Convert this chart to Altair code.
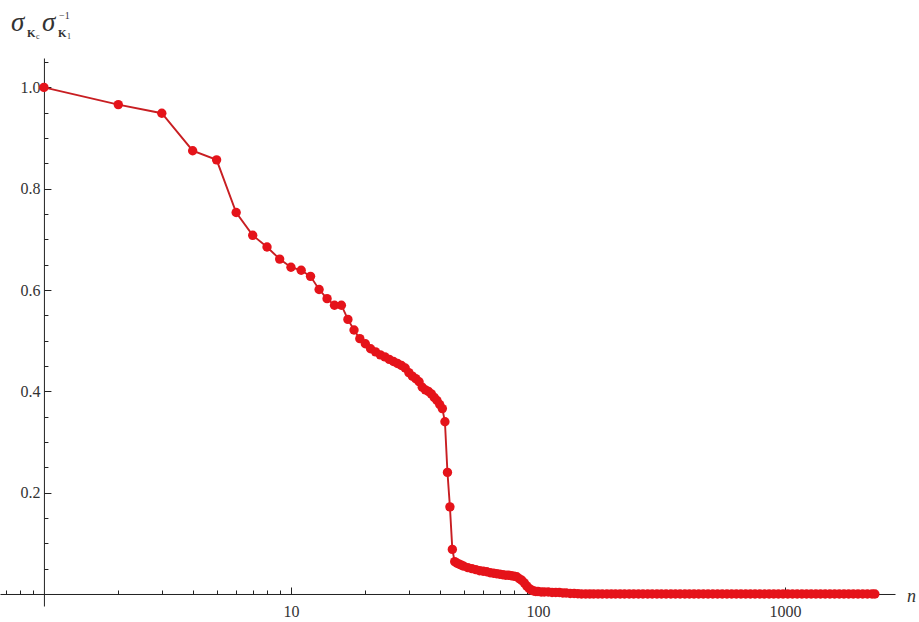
import altair as alt
import pandas as pd
import math

# ---- data ----
n_vals = list(range(1, 47)) + [
    47, 48, 49, 50, 52, 54, 56, 58, 60, 62, 64, 66, 68, 70, 72, 74, 76, 78, 80, 82,
    84, 86, 88, 90, 92, 94, 96, 98, 100, 103, 106, 110, 114, 118, 122, 126, 130, 135,
    140, 145, 150, 156, 162, 168, 175, 182, 190, 198, 206, 215, 224, 234, 244, 255,
    266, 278, 290, 303, 316, 330, 345, 360, 376, 393, 410, 428, 447, 467, 488, 510,
    533, 557, 582, 608, 635, 663, 693, 724, 756, 790, 825, 862, 900, 940, 982, 1026,
    1072, 1120, 1170, 1222, 1276, 1333, 1392, 1454, 1519, 1587, 1658, 1732, 1809,
    1890, 1974, 2062, 2154, 2250, 2310]

ratio_vals = [
    1.000, 0.966, 0.949, 0.875, 0.857, 0.753, 0.708, 0.685, 0.661, 0.645,
    0.639, 0.627, 0.601, 0.583, 0.570, 0.570, 0.542, 0.521, 0.504, 0.494,
    0.484, 0.478, 0.472, 0.468, 0.463, 0.459, 0.455, 0.451, 0.446, 0.437,
    0.430, 0.425, 0.419, 0.408, 0.403, 0.400, 0.395, 0.388, 0.382, 0.374,
    0.366, 0.340, 0.240, 0.172, 0.088, 0.064,
    0.061, 0.059, 0.057, 0.055, 0.052, 0.050, 0.048, 0.046, 0.045, 0.044,
    0.042, 0.041, 0.040, 0.039, 0.038, 0.037, 0.037, 0.036, 0.035, 0.034,
    0.030, 0.027, 0.022, 0.016, 0.011, 0.008, 0.006, 0.005, 0.005, 0.004,
    0.004, 0.004, 0.003, 0.003, 0.003, 0.002, 0.002, 0.001, 0.001, 0.0005,
    0.0, 0.0, 0.0, 0.0, 0.0, 0.0, 0.0, 0.0, 0.0, 0.0, 0.0, 0.0, 0.0, 0.0,
    0.0, 0.0, 0.0, 0.0, 0.0, 0.0, 0.0, 0.0, 0.0, 0.0, 0.0, 0.0, 0.0, 0.0,
    0.0, 0.0, 0.0, 0.0, 0.0, 0.0, 0.0, 0.0, 0.0, 0.0, 0.0, 0.0, 0.0, 0.0,
    0.0, 0.0, 0.0, 0.0, 0.0, 0.0, 0.0, 0.0, 0.0, 0.0, 0.0, 0.0, 0.0, 0.0,
    0.0, 0.0, 0.0, 0.0, 0.0, 0.0, 0.0, 0.0, 0.0]

x_major_ticks = [10, 100, 1000]
x_minor_ticks = [0.7, 0.8, 0.9, 2, 3, 4, 5, 6, 7, 8, 9,
                 20, 30, 40, 50, 60, 70, 80, 90,
                 200, 300, 400, 500, 600, 700, 800, 900, 2000]
y_major_ticks = [0.2, 0.4, 0.6, 0.8, 1.0]
y_minor_ticks = [0.05, 0.1, 0.15, 0.25, 0.3, 0.35, 0.45, 0.5, 0.55, 0.65,
                 0.7, 0.75, 0.85, 0.9, 0.95, 1.05]

df = pd.DataFrame({"n": n_vals[:len(ratio_vals)], "r": ratio_vals[:len(n_vals)]})

# ---- layout ----
W, H = 895, 548
X_DOM = [0.664, 2787]
Y_DOM = [-0.0237, 1.058]
x_off = -H * (Y_DOM[1] - 0) / (Y_DOM[1] - Y_DOM[0])          # x axis at y = 0
x1_px = W * (0 - math.log10(X_DOM[0])) / (math.log10(X_DOM[1]) - math.log10(X_DOM[0]))
y_off = -(W - x1_px)                                            # y axis at n = 1

AX = "#222222"
LAB = "#333333"
FONT = "Liberation Serif"

xscale = alt.Scale(type="log", domain=X_DOM, nice=False)
yscale = alt.Scale(domain=Y_DOM, nice=False, zero=False)

x_major = alt.Axis(orient="top", offset=x_off, values=x_major_ticks, format="d",
                   tickSize=7, tickColor=AX, tickWidth=1, domainColor=AX, domainWidth=1,
                   labelPadding=-17, labelBaseline="top", labelFont=FONT,
                   labelFontSize=16, labelColor=LAB, grid=False,
                   title="n", titleX=911, titleY=3, titleAlign="center",
                   titleBaseline="middle", titleFont=FONT, titleFontSize=18,
                   titleFontStyle="italic", titleFontWeight="normal", titleColor=LAB,
                   titleAngle=0)
y_major = alt.Axis(orient="right", offset=y_off, values=y_major_ticks, format=".1f",
                   tickSize=7, tickColor=AX, tickWidth=1, domainColor=AX, domainWidth=1,
                   labelPadding=-11, labelAlign="right", labelBaseline="middle",
                   labelFont=FONT, labelFontSize=16, labelColor=LAB, grid=False,
                   title=None)
x_minor = alt.Axis(orient="top", offset=x_off, values=x_minor_ticks, tickSize=4,
                   tickColor=AX, tickWidth=1, domain=False, labels=False, grid=False,
                   title=None)
y_minor = alt.Axis(orient="right", offset=y_off, values=y_minor_ticks, tickSize=4,
                   tickColor=AX, tickWidth=1, domain=False, labels=False, grid=False,
                   title=None)

line = alt.Chart(df).mark_line(color="#c81e22", strokeWidth=1.9).encode(
    x=alt.X("n:Q", scale=xscale, axis=x_major),
    y=alt.Y("r:Q", scale=yscale, axis=y_major),
)
points = alt.Chart(df).mark_circle(color="#e5131a", size=88, opacity=1).encode(
    x=alt.X("n:Q", scale=xscale, axis=x_minor),
    y=alt.Y("r:Q", scale=yscale, axis=y_minor),
)

# y-axis label  sigma_Kc sigma_K1^-1
lab_parts = [
    ("σ", 11, -27, 27, "italic", "normal"),
    ("K", 27, -21, 11, "normal", "bold"),
    ("c", 36, -19, 8, "normal", "normal"),
    ("σ", 42, -27, 27, "italic", "normal"),
    ("K", 58, -21, 11, "normal", "bold"),
    ("1", 67, -19, 8, "normal", "normal"),
    ("−1", 59, -39, 10, "normal", "normal"),
]
texts = []
for t, tx, ty, fs, st, fw in lab_parts:
    texts.append(
        alt.Chart(pd.DataFrame({"t": [t]})).mark_text(
            align="left", baseline="alphabetic", font=FONT, fontSize=fs,
            fontStyle=st, fontWeight=fw, color=LAB
        ).encode(text="t:N", x=alt.value(tx), y=alt.value(ty))
    )

chart = alt.layer(line, points, *texts).resolve_axis(
    x="independent", y="independent"
).properties(
    width=W, height=H,
    autosize=alt.AutoSizeParams(type="none"),
    padding={"left": 0, "top": 58, "right": 24, "bottom": 16},
    background="white",
).configure_view(stroke=None)

chart.save("out.html", embed_options={"renderer": "svg", "actions": False})
